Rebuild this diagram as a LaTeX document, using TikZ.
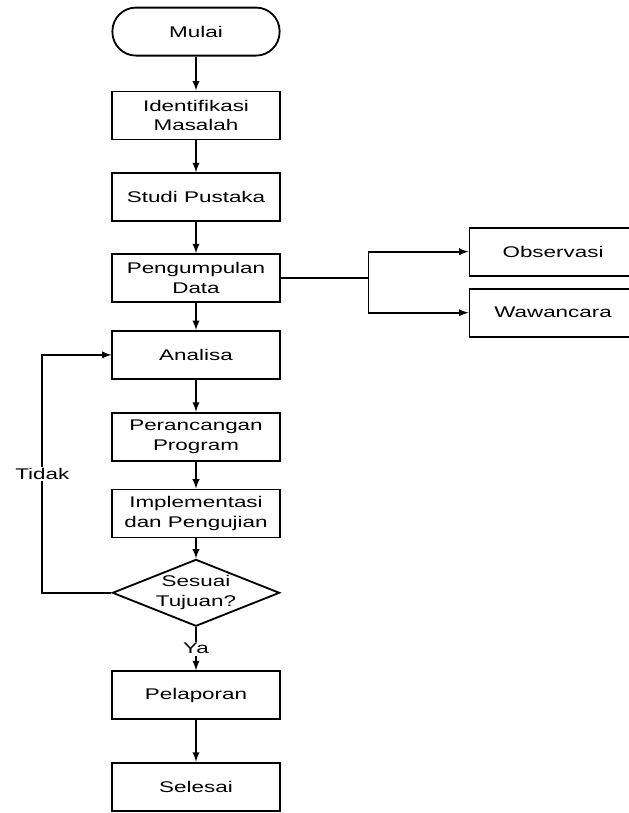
\documentclass[tikz,border=0pt]{standalone}
\usepackage{fontspec}
\setmainfont{Liberation Sans}[FakeStretch=1.45]
\usepackage{tikz}
\usetikzlibrary{positioning,shapes.geometric}

\begin{document}
\begin{tikzpicture}[node distance=0.8cm,
      box/.style={rectangle,draw,line width=1.3pt,minimum width=4.18cm,minimum height=1.2cm,align=center,inner sep=1pt,font=\fontsize{11}{14}\selectfont},
      term/.style={box,rounded corners=0.59cm},
      cek/.style={diamond,draw,line width=1.3pt,aspect=2.45,minimum width=4.18cm,minimum height=1.64cm,inner sep=0pt,align=center,font=\fontsize{11}{14}\selectfont},
      lbl/.style={fill=white,inner sep=1pt,font=\fontsize{11}{14}\selectfont},
      arr/.style={->,>=latex,line width=1.3pt}]
      \useasboundingbox (0,0) rectangle (15.7,-20.325);
      \node[term] (mulai) at (4.9,-0.79) {Mulai};
      \node[box,below=0.85cm of mulai] (idm) {Identifikasi\\Masalah};
      \node[box,below=0.8cm of idm] (studi) {Studi Pustaka};
      \node[box,below=0.775cm of studi] (peng) {Pengumpulan\\Data};
      \node[box,below=0.675cm of peng] (analisa) {Analisa};
      \node[box,below=0.8cm of analisa] (rancang) {Perancangan\\Program};
      \node[box,below=0.675cm of rancang] (impl) {Implementasi\\dan Pengujian};
      \node[cek,below=0.5cm of impl] (sesuai) {Sesuai\\Tujuan?};
      \node[box,below=1.08cm of sesuai] (lapor) {Pelaporan};
      \node[box,below=1.04cm of lapor] (selesai) {Selesai};
      % cabang pengumpulan data
      \node[box,anchor=west] (obs) at ([xshift=4.7cm,yshift=0.66cm]peng.east) {Observasi};
      \node[box,below=0.28cm of obs] (wwc) {Wawancara};
      \coordinate (split) at ([xshift=2.2cm]peng.east);
      \draw[arr] (mulai) -- (idm);
      \draw[arr] (idm) -- (studi);
      \draw[arr] (studi) -- (peng);
      \draw[arr] (peng) -- (analisa);
      \draw[arr] (analisa) -- (rancang);
      \draw[arr] (rancang) -- (impl);
      \draw[arr] (impl) -- (sesuai);
      \draw[arr] (sesuai) -- (lapor) node[midway,lbl] {Ya};
      \draw[arr] (lapor) -- (selesai);
      \draw[line width=1.3pt] (peng.east) -- (split);
      \draw[arr] (split) |- (obs.west);
      \draw[arr] (split) |- (wwc.west);
      \draw[arr] (sesuai.west) -- ++(-1.73,0) |- (analisa.west) node[pos=0.25,lbl] {Tidak};
    \end{tikzpicture}
\end{document}
